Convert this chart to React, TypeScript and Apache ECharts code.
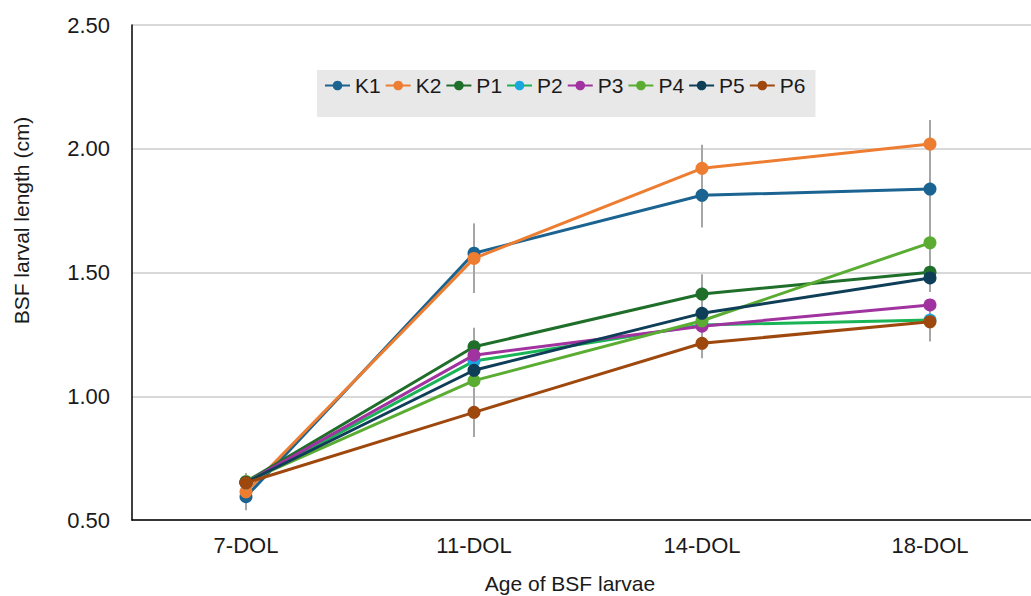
import React, { useEffect, useRef } from "react";
import * as echarts from "echarts";

const categories = ["7-DOL", "11-DOL", "14-DOL", "18-DOL"];
const seriesNames = ["K1", "K2", "P1", "P2", "P3", "P4", "P5", "P6"];
const K1 = [0.594, 1.578, 1.812, 1.837];
const K2 = [0.614, 1.557, 1.921, 2.019];
const P1 = [0.655, 1.2, 1.413, 1.501];
const P2 = [0.65, 1.142, 1.288, 1.308];
const P3 = [0.652, 1.166, 1.283, 1.369];
const P4 = [0.655, 1.063, 1.305, 1.62];
const P5 = [0.652, 1.105, 1.335, 1.478];
const P6 = [0.65, 0.935, 1.214, 1.301];
// error bar half-lengths (0 = none visible)
const K1err = [0.05, 0.12, 0.13, 0.1];
const K2err = [0.075, 0.14, 0.095, 0.097];
const P1err = [0.035, 0.077, 0.08, 0.08];
const P4err = [0, 0, 0, 0.13];
const P6err = [0, 0.1, 0.06, 0.08];
const yTicks = ["0.50", "1.00", "1.50", "2.00", "2.50"];

const values = [K1, K2, P1, P2, P3, P4, P5, P6];
const lineColors = ["#1b6390", "#ed7d31", "#1f6e2a", "#19b456", "#a0339f", "#5aad32", "#0f3e58", "#9e480e"];
const markerColors = ["#1b6390", "#ed7d31", "#1f6e2a", "#1aa7df", "#a0339f", "#5aad32", "#0f3e58", "#9e480e"];
const errors: [number[], number[]][] = [
  [K1, K1err],
  [K2, K2err],
  [P1, P1err],
  [P4, P4err],
  [P6, P6err],
];

export default function App() {
  const ref = useRef<HTMLDivElement>(null);
  useEffect(() => {
    document.body.style.margin = "0";
    const chart = echarts.init(ref.current!, null, { renderer: "svg" });
    const errData: number[][] = [];
    errors.forEach(([v, e]) => {
      v.forEach((val, i) => {
        if (e[i] > 0) errData.push([i, val, e[i]]);
      });
    });
    const font = "Liberation Sans, Arial, sans-serif";
    chart.setOption({
      animation: false,
      textStyle: { fontFamily: font },
      grid: { left: 132, top: 25, width: 912, height: 495, outerBoundsMode: "none" },
      legend: {
        data: seriesNames,
        left: 317,
        top: 70,
        padding: [5, 10, 21, 7],
        backgroundColor: "#e8e8e8",
        itemWidth: 25,
        itemHeight: 12,
        itemGap: 4,
        textStyle: { fontSize: 21, color: "#1a1a1a", fontFamily: font },
      },
      xAxis: {
        type: "category",
        data: categories,
        axisLine: { lineStyle: { color: "#000", width: 1.5 } },
        axisTick: { show: false },
        axisLabel: { fontSize: 22, color: "#1a1a1a", margin: 14 },
        name: "Age of BSF larvae",
        nameLocation: "middle",
        nameGap: 53,
        nameTextStyle: { fontSize: 21, color: "#1a1a1a", padding: [0, 36, 0, 0] },
      },
      yAxis: {
        type: "value",
        min: 0.5,
        max: 2.5,
        interval: 0.5,
        axisLine: { show: true, lineStyle: { color: "#000", width: 1.5 } },
        axisTick: { show: false },
        axisLabel: {
          fontSize: 22,
          color: "#1a1a1a",
          margin: 22,
          formatter: (v: number) => yTicks[Math.round((v - 0.5) / 0.5)] ?? v.toFixed(2),
        },
        splitLine: { lineStyle: { color: "#d9d9d9", width: 2 } },
        name: "BSF larval length (cm)",
        nameLocation: "middle",
        nameGap: 100,
        nameTextStyle: { fontSize: 21, color: "#1a1a1a", padding: [0, 0, 0, 104] },
      },
      series: [
        {
          type: "custom",
          name: "errors",
          z: 1,
          silent: true,
          renderItem: (params: any, api: any) => {
            const x = api.value(0);
            const v = api.value(1);
            const e = api.value(2);
            const t = api.coord([x, v + e]);
            const b = api.coord([x, v - e]);
            return {
              type: "line",
              shape: { x1: t[0], y1: t[1], x2: b[0], y2: b[1] },
              style: { stroke: "#a6a6a6", lineWidth: 2 },
            };
          },
          data: errData,
        },
        ...seriesNames.map((n, i) => ({
          type: "line",
          name: n,
          data: values[i],
          z: 2 + i,
          symbol: "circle",
          symbolSize: 13,
          lineStyle: { color: lineColors[i], width: 3 },
          itemStyle: { color: markerColors[i] },
        })),
      ],
    });
    return () => chart.dispose();
  }, []);
  return <div ref={ref} style={{ width: 1031, height: 596 }} />;
}
